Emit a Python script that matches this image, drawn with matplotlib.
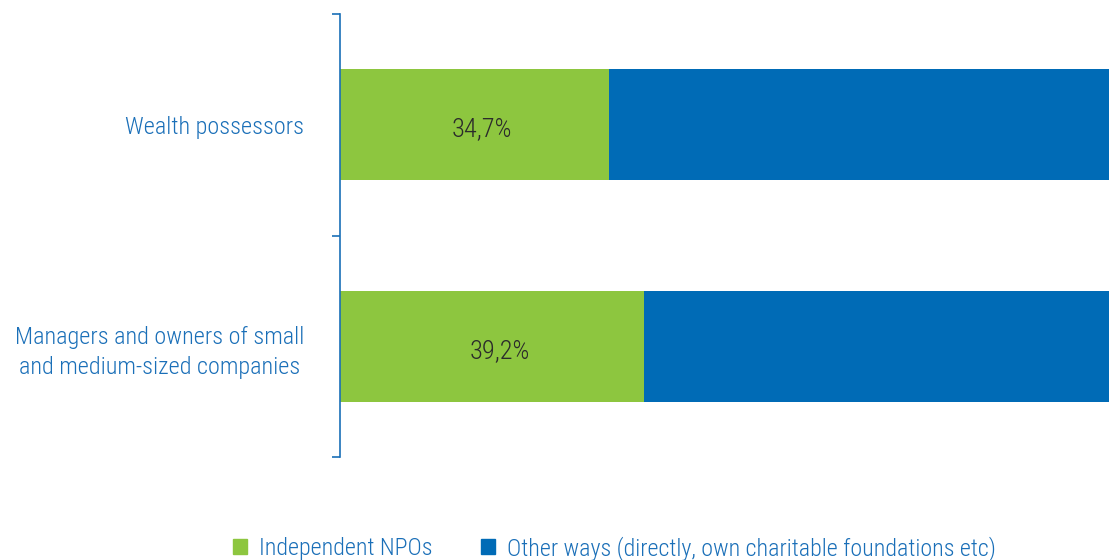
import matplotlib.pyplot as plt
from matplotlib import font_manager
from matplotlib.patches import Patch

# prefer a narrow face for the labels, fall back to Lato
installed = {(f.name, f.stretch) for f in font_manager.fontManager.ttflist}
names = {n for n, _ in installed}
FONT, STRETCH = 'Lato', 'normal'
for name, stretch in [('Liberation Sans Narrow', 'normal'),
                      ('Roboto Condensed', 'normal'),
                      ('Open Sans Condensed', 'normal'),
                      ('DejaVu Sans', 'condensed'),
                      ('DejaVu Sans Condensed', 'normal')]:
    if name in names and (stretch == 'normal' or any(n == name and s in ('condensed', 'semi-condensed', 600, 500) for n, s in installed)):
        FONT, STRETCH = name, stretch
        break
plt.rcParams['font.family'] = [FONT, 'DejaVu Sans']
plt.rcParams['font.stretch'] = STRETCH
plt.rcParams['font.weight'] = 'light'

categories = ['Wealth possessors',
              'Managers and owners of small\nand medium-sized companies']
npo_share = [34.7, 39.2]
other_share = [65.3, 60.8]
series_names = ['Independent NPOs',
                'Other ways (directly, own charitable foundations etc)']

GREEN = '#8dc63f'
BLUE = '#006bb6'
TEXT_BLUE = '#1a6fb8'

fig = plt.figure(figsize=(11.09, 5.60), dpi=100)
# the axes run a little past the right edge, so the blue bars are cut off there
ax = fig.add_axes([340 / 1109, 103 / 560, 775 / 1109, 443 / 560])

pos = list(range(len(categories)))
ax.barh(pos, npo_share, height=0.5, color=GREEN)
ax.barh(pos, other_share, left=npo_share, height=0.5, color=BLUE)

for p, v in zip(pos, npo_share):
    ax.text(v / 2 + 1, p + 0.01, f'{v:.1f}%'.replace('.', ','), ha='center',
            va='center_baseline', fontsize=19, color='#2b2b2b')

ax.set_xlim(0, 100)
ax.set_ylim(1.5, -0.5)
ax.set_yticks(pos)
ax.set_yticklabels(categories, fontsize=17.5, color=TEXT_BLUE,
                   multialignment='center', linespacing=1.4)
ax.tick_params(axis='y', which='major', length=0, pad=26)
# short ticks only between the groups
ax.set_yticks([-0.5, 0.5, 1.5], minor=True)
ax.tick_params(axis='y', which='minor', length=6, width=1.2, color=TEXT_BLUE)
ax.set_xticks([])

for s in ['top', 'right', 'bottom']:
    ax.spines[s].set_visible(False)
ax.spines['left'].set_color(TEXT_BLUE)
ax.spines['left'].set_linewidth(1.2)

handles = [Patch(color=GREEN, label=series_names[0]),
           Patch(color=BLUE, label=series_names[1])]
leg = fig.legend(handles=handles, loc='lower center', bbox_to_anchor=(0.554, -0.04),
                 ncol=2, frameon=False, fontsize=17.3, handlelength=0.6,
                 handleheight=0.6, handletextpad=0.5, columnspacing=2.0)
for t in leg.get_texts():
    t.set_color(TEXT_BLUE)

fig.savefig('out.png', dpi=100)
